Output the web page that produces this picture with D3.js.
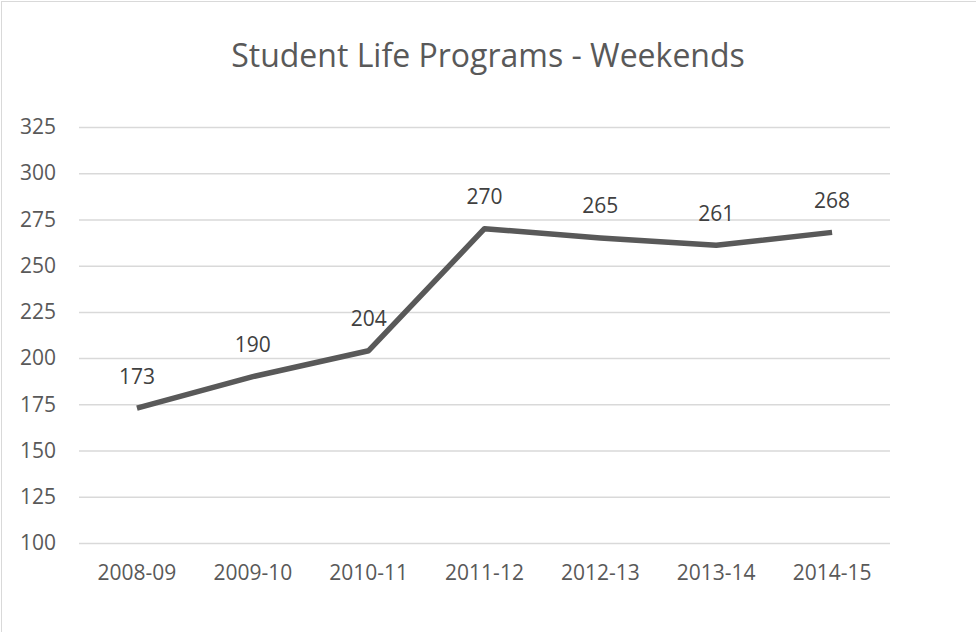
<!DOCTYPE html>
<html>
<head>
<meta charset="utf-8">
<script src="https://cdn.jsdelivr.net/npm/d3@7"></script>
<style>
  body { margin: 0; background: #fff; }
  svg { display: block; font-family: "Open Sans", sans-serif; }
</style>
</head>
<body>
<div id="chart"></div>
<script>
// data
const years = ["2008-09", "2009-10", "2010-11", "2011-12", "2012-13", "2013-14", "2014-15"];
const weekends = [173, 190, 204, 270, 265, 261, 268];
const yTicks = [100, 125, 150, 175, 200, 225, 250, 275, 300, 325];

const W = 976, H = 632;
var margin = {top: 127, right: 86, bottom: 89, left: 79},
    width = W - margin.left - margin.right,
    height = H - margin.top - margin.bottom;

var svg = d3.select("#chart").append("svg")
    .attr("width", W)
    .attr("height", H);

// chart area border
svg.append("rect")
    .attr("x", 1.5).attr("y", 1.5)
    .attr("width", W + 10).attr("height", H + 10)
    .attr("fill", "#fff")
    .attr("stroke", "#d9d9d9")
    .attr("stroke-width", 1);

svg.append("text")
    .attr("x", W / 2)
    .attr("y", 67)
    .attr("text-anchor", "middle")
    .attr("fill", "#595959")
    .style("font-size", "32px")
    .text("Student Life Programs - Weekends");

var g = svg.append("g")
    .attr("transform", "translate(" + margin.left + "," + margin.top + ")");

var x = d3.scaleBand()
    .domain(years)
    .range([0, width]);

var y = d3.scaleLinear()
    .domain([100, 325])
    .range([height, 0]);

// gridlines
g.append("g")
    .call(d3.axisLeft(y).tickValues(yTicks).tickSize(-width).tickFormat(""))
    .call(a => a.select(".domain").remove())
    .selectAll("line")
    .attr("stroke", "#d9d9d9")
    .attr("stroke-width", 1.5);

// y labels
g.append("g")
    .call(d3.axisLeft(y).tickValues(yTicks).tickSize(0).tickPadding(23))
    .call(a => a.select(".domain").remove())
    .selectAll("text")
    .attr("fill", "#595959")
    .style("font-size", "21px")
    .style("font-family", "Open Sans, sans-serif");

// x labels
g.append("g")
    .attr("transform", "translate(0," + height + ")")
    .call(d3.axisBottom(x).tickSize(0).tickPadding(22))
    .call(a => a.select(".domain").remove())
    .selectAll("text")
    .attr("fill", "#595959")
    .style("font-size", "21px")
    .style("font-family", "Open Sans, sans-serif");

var cx = d => x(d) + x.bandwidth() / 2;

var line = d3.line()
    .x((d, i) => cx(years[i]))
    .y(d => y(d));

g.append("path")
    .datum(weekends)
    .attr("d", line)
    .attr("fill", "none")
    .attr("stroke", "#595959")
    .attr("stroke-width", 5.5)
    .attr("stroke-linejoin", "round");

// data labels above points
g.selectAll(".lbl")
    .data(weekends)
    .enter()
    .append("text")
    .attr("class", "lbl")
    .attr("x", (d, i) => cx(years[i]))
    .attr("y", d => y(d) - 24.5)
    .attr("text-anchor", "middle")
    .attr("fill", "#404040")
    .style("font-size", "21px")
    .text(d => d);
</script>
</body>
</html>
